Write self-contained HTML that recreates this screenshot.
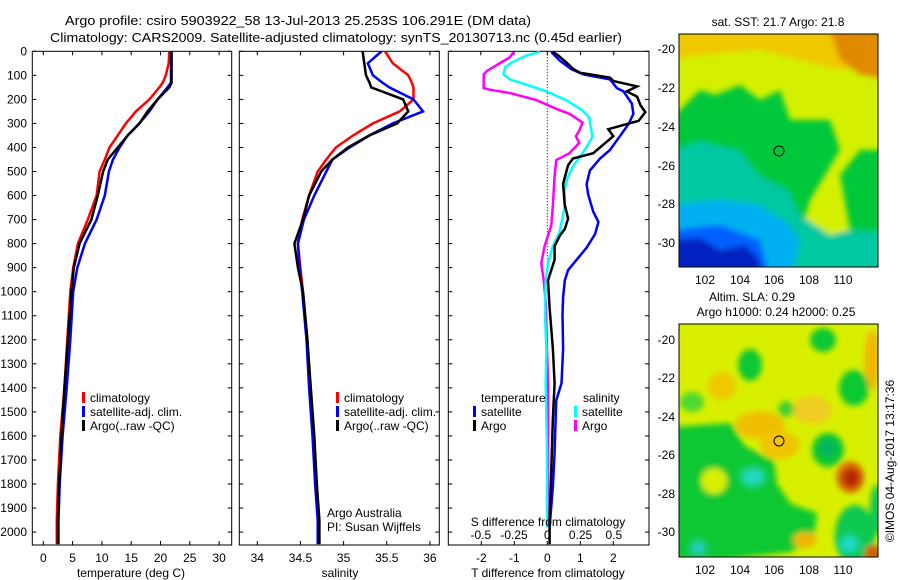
<!DOCTYPE html>
<html><head><meta charset="utf-8">
<style>
html,body{margin:0;padding:0;background:#fff;}
svg{display:block;font-family:"Liberation Sans",sans-serif;}
</style></head>
<body>
<svg id="fig" width="900" height="580" viewBox="0 0 900 580" xmlns="http://www.w3.org/2000/svg">
<defs>
<filter id="blur6" x="-20%" y="-20%" width="140%" height="140%"><feGaussianBlur stdDeviation="3"/></filter>
<filter id="blur4" x="-20%" y="-20%" width="140%" height="140%"><feGaussianBlur stdDeviation="4"/></filter>
<clipPath id="clipM1"><rect x="679" y="34" width="199" height="233"/></clipPath>
<clipPath id="clipM2"><rect x="679" y="324" width="199" height="233"/></clipPath>
<clipPath id="clipP1"><rect x="32" y="51" width="200" height="494"/></clipPath>
<clipPath id="clipP2"><rect x="239" y="51" width="200" height="494"/></clipPath>
<clipPath id="clipP3"><rect x="448" y="51" width="201" height="494"/></clipPath>
</defs>
<text x="65" y="25" font-size="13" textLength="466" lengthAdjust="spacingAndGlyphs">Argo profile: csiro 5903922_58 13-Jul-2013 25.253S 106.291E (DM data)</text>
<text x="50" y="42" font-size="13" textLength="572" lengthAdjust="spacingAndGlyphs">Climatology: CARS2009. Satellite-adjusted climatology: synTS_20130713.nc (0.45d earlier)</text>

<!-- Map 1 -->
<g>
<text x="778" y="26" font-size="12" text-anchor="middle">sat. SST: 21.7 Argo: 21.8</text>
<g clip-path="url(#clipM1)">
<rect x="679" y="34" width="199" height="233" fill="#00c83a"/>
<g filter="url(#blur6)">
<path d="M670,30 L890,30 L890,150 L860,150 L840,175 L850,230 L830,250 L800,235 L810,200 L840,150 L830,120 L790,120 L780,90 L760,100 L740,85 L715,95 L700,90 L670,120 Z" fill="#d4f000"/>
<path d="M670,30 L890,30 L890,60 L840,70 L800,60 L760,50 L700,55 L670,60 Z" fill="#f0c800"/>
<path d="M830,30 L890,30 L890,80 L860,75 L840,60 Z" fill="#e08a00"/>
<path d="M670,150 L700,140 L740,150 L760,175 L790,190 L800,215 L830,235 L850,230 L890,230 L890,280 L670,280 Z" fill="#00c8a0"/>
<path d="M670,205 L720,200 L760,205 L790,225 L800,240 L790,280 L670,280 Z" fill="#00b0f0"/>
<path d="M670,230 L720,225 L760,240 L770,280 L670,280 Z" fill="#0060ff"/>
<path d="M670,240 L700,238 L720,250 L745,245 L760,260 L760,280 L670,280 Z" fill="#0020c0"/>
</g>
</g>
<rect x="679" y="34" width="199" height="233" fill="none" stroke="#000"/>
<circle cx="779" cy="151" r="5" fill="none" stroke="#000"/>
<g font-size="12">
<text x="675" y="53" text-anchor="end">-20</text><text x="675" y="92" text-anchor="end">-22</text><text x="675" y="131" text-anchor="end">-24</text><text x="675" y="170" text-anchor="end">-26</text><text x="675" y="208" text-anchor="end">-28</text><text x="675" y="247" text-anchor="end">-30</text>
<text x="705" y="284" text-anchor="middle">102</text><text x="740" y="284" text-anchor="middle">104</text><text x="774" y="284" text-anchor="middle">106</text><text x="809" y="284" text-anchor="middle">108</text><text x="843" y="284" text-anchor="middle">110</text>
</g>
</g>

<!-- Map 2 -->
<g>
<text x="752" y="301" font-size="12" text-anchor="middle">Altim. SLA: 0.29</text>
<text x="776" y="316" font-size="12" text-anchor="middle">Argo h1000: 0.24 h2000: 0.25</text>
<g clip-path="url(#clipM2)">
<rect x="679" y="324" width="199" height="233" fill="#d8f000"/>
<g filter="url(#blur6)">
<ellipse cx="722" cy="386" rx="14" ry="14" fill="#f0c800"/>
<ellipse cx="760" cy="425" rx="25" ry="14" fill="#f0c000"/>
<ellipse cx="780" cy="445" rx="20" ry="14" fill="#f0c400"/>
<ellipse cx="812" cy="410" rx="20" ry="14" fill="#f0cc20"/>
<ellipse cx="872" cy="360" rx="8" ry="30" fill="#f0b800"/>
<path d="M670,427 L731,423 L745,446 L774,461 L777,484 L791,504 L817,513 L814,538 L791,552 L722,560 L670,560 Z" fill="#10c830"/>
<ellipse cx="714" cy="481" rx="13" ry="13" fill="#d8f000"/>
<ellipse cx="750" cy="365" rx="12" ry="16" fill="#10c830"/>
<ellipse cx="823" cy="340" rx="13" ry="12" fill="#10c830"/>
<ellipse cx="854" cy="388" rx="15" ry="18" fill="#10c830"/>
<ellipse cx="828" cy="450" rx="16" ry="17" fill="#10c830"/>
<ellipse cx="786" cy="409" rx="8" ry="8" fill="#40d030"/>
<ellipse cx="692" cy="402" rx="12" ry="10" fill="#50d830"/>
<ellipse cx="855" cy="535" rx="20" ry="30" fill="#10c850"/>
<ellipse cx="876" cy="510" rx="6" ry="25" fill="#10c850"/>
<ellipse cx="850" cy="477" rx="14" ry="16" fill="#e08000"/>
<ellipse cx="805" cy="540" rx="12" ry="8" fill="#f0b800"/>
<ellipse cx="874" cy="553" rx="10" ry="8" fill="#d06000"/>
</g>
<g filter="url(#blur4)">
<ellipse cx="753" cy="477" rx="13" ry="10" fill="#20d8c0"/>
<ellipse cx="828" cy="448" rx="8" ry="8" fill="#00b070"/>
<ellipse cx="851" cy="478" rx="9" ry="10" fill="#b02000"/>
<ellipse cx="698" cy="548" rx="9" ry="8" fill="#20d0c0"/>
<ellipse cx="849" cy="544" rx="10" ry="9" fill="#20d8d0"/>
</g>
</g>
<rect x="679" y="324" width="199" height="233" fill="none" stroke="#000"/>
<circle cx="779" cy="441" r="5" fill="none" stroke="#000"/>
<g font-size="12">
<text x="675" y="344" text-anchor="end">-20</text><text x="675" y="382" text-anchor="end">-22</text><text x="675" y="421" text-anchor="end">-24</text><text x="675" y="459" text-anchor="end">-26</text><text x="675" y="498" text-anchor="end">-28</text><text x="675" y="536" text-anchor="end">-30</text>
<text x="705" y="574" text-anchor="middle">102</text><text x="740" y="574" text-anchor="middle">104</text><text x="774" y="574" text-anchor="middle">106</text><text x="809" y="574" text-anchor="middle">108</text><text x="843" y="574" text-anchor="middle">110</text>
</g>
<text font-size="12" transform="translate(894,461) rotate(-90)" text-anchor="middle">©IMOS 04-Aug-2017 13:17:36</text>
</g>

<g id="plots"></g>
</svg>
<script>
// ---------- data ----------
const depthTicks = [0,100,200,300,400,500,600,700,800,900,1000,1100,1200,1300,1400,1500,1600,1700,1800,1900,2000];
const tempTicks = [0,5,10,15,20,25,30];
const salTicks = [34,34.5,35,35.5,36];
const salTickLabels = ["34","34.5","35","35.5","36"];
const tdiffTicks = [-2,-1,0,1,2];
const sdiffTicks = [-0.5,-0.25,0,0.25,0.5];
const sdiffTickLabels = ["-0.5","-0.25","0","0.25","0.5"];

const profDepth = [0,50,100,130,150,200,250,300,350,400,450,500,600,700,800,900,1000,1200,1400,1600,1800,1950,2050];
const tempClim  = [21.5,21.4,20.9,20.4,19.8,18.1,15.8,14.1,12.7,11.3,10.5,9.6,9.1,7.6,5.9,5.1,4.6,4.1,3.6,2.9,2.5,2.3,2.3];
const tempSat   = [21.8,21.8,21.8,21.8,21.2,19.5,18.1,16.4,14.4,13.0,11.9,11.2,10.5,9.1,7.1,5.8,5.1,4.6,4.0,3.3,2.8,2.6,2.6];
const tempArgo  = [21.9,21.9,21.9,21.9,21.5,19.5,17.8,16.4,14.4,12.7,11.0,10.2,9.3,8.2,6.2,5.2,4.8,4.2,3.6,3.1,2.7,2.5,2.5];

const salClim = [35.48,35.57,35.75,35.79,35.81,35.81,35.65,35.34,35.11,34.91,34.80,34.70,34.60,34.52,34.47,34.50,34.53,34.58,34.61,34.65,34.69,34.71,34.72];
const salSat  = [35.44,35.28,35.34,35.45,35.53,35.81,35.92,35.57,35.30,35.07,34.87,34.80,34.66,34.54,34.47,34.49,34.52,34.57,34.60,34.64,34.67,34.70,34.70];
const salArgo = [35.22,35.24,35.26,35.30,35.32,35.69,35.75,35.62,35.30,35.05,34.87,34.74,34.60,34.53,34.43,34.47,34.53,34.58,34.62,34.66,34.69,34.72,34.72];

const dTArgoDepth = [3,17,53,74,89,110,124,146,167,189,224,253,289,303,324,353,424,446,474,524,553,639,696,739,767,810,867,953,1067,1239,1381,1524,1739,1953,2050];
const dTArgo      = [0.17,0.33,0.63,0.79,0.99,1.90,2.01,2.72,2.41,2.72,2.82,2.97,2.77,2.41,1.85,2.00,1.39,0.78,0.63,0.53,0.48,0.53,0.63,0.53,0.38,0.22,0.22,0.02,0.07,0.17,0.22,0.17,0.12,0.07,0.07];
const dTSatDepth  = [3,39,74,96,117,153,167,217,260,303,353,410,446,496,553,596,667,710,760,817,867,910,953,1024,1096,1239,1381,1453,1667,1810,1981];
const dTSat       = [0.12,0.38,0.73,1.09,1.90,2.11,2.31,2.56,2.61,2.46,2.20,1.90,1.60,1.29,1.19,1.24,1.39,1.55,1.45,1.19,0.89,0.63,0.53,0.48,0.46,0.48,0.43,0.27,0.22,0.17,0.07];
const dSSatDepth  = [3,17,46,67,96,117,139,167,203,246,274,317,353,381,424,481,524,581,653,753,810,881,953,1096,1239,1381,1524,1667,1810,1981];
const dSSat       = [-0.057,-0.156,-0.267,-0.317,-0.329,-0.280,-0.156,-0.007,0.141,0.265,0.314,0.327,0.339,0.314,0.265,0.191,0.153,0.129,0.129,0.092,0.042,0.005,-0.012,-0.017,-0.007,-0.012,-0.007,-0.002,-0.002,-0.002];
const dSArgoDepth = [3,24,53,81,96,153,160,174,203,239,260,296,331,353,381,424,453,524,639,724,810,881,953,1039,1239,1381,1667,1981];
const dSArgo      = [-0.255,-0.280,-0.366,-0.453,-0.478,-0.478,-0.428,-0.280,-0.082,0.067,0.166,0.265,0.240,0.215,0.240,0.166,0.067,0.054,0.042,0.030,-0.020,-0.045,-0.027,-0.012,-0.002,0.005,0.005,0.005];

// ---------- axes ----------
const NS = "http://www.w3.org/2000/svg";
const TOP = 51.3, BOT = 545;
const yD = d => TOP + d * 0.2404;
const xT  = t => 43.3 + t * 5.86;
const xS  = s => 257.3 + (s - 34) * 86.3;
const xdT = t => 547.3 + t * 33;
const xdS = s => 547.3 + s * 133;
const root = document.getElementById('plots');

function mk(tag, attrs, parent){
  const e = document.createElementNS(NS, tag);
  for (const k in attrs) e.setAttribute(k, attrs[k]);
  (parent || root).appendChild(e);
  return e;
}
function txt(x, y, s, anchor, parent){
  const t = mk('text', {x:x, y:y, 'font-size':12, 'text-anchor':anchor||'middle'}, parent);
  t.textContent = s;
  return t;
}
function line(xs, ds, fx, color, parent, w){
  const pts = xs.map((v,i)=> fx(v).toFixed(1)+','+yD(ds[i]).toFixed(1)).join(' ');
  return mk('polyline', {points:pts, fill:'none', stroke:color, 'stroke-width':w||2.5, 'stroke-linejoin':'miter'}, parent);
}
function frame(x0, x1, name){
  const g = mk('g', {});
  
  
  mk('rect', {x:x0, y:TOP, width:x1-x0, height:BOT-TOP, fill:'none', stroke:'#000', 'stroke-width':1}, g);
  depthTicks.forEach(d=>{
    mk('line', {x1:x0, x2:x0+4, y1:yD(d), y2:yD(d), stroke:'#000'}, g);
    mk('line', {x1:x1-4, x2:x1, y1:yD(d), y2:yD(d), stroke:'#000'}, g);
  });
  return g;
}
function xticks(g, vals, labels, fx, ly){
  vals.forEach((v,i)=>{
    mk('line', {x1:fx(v), x2:fx(v), y1:BOT, y2:BOT-4, stroke:'#000'}, g);
    mk('line', {x1:fx(v), x2:fx(v), y1:TOP, y2:TOP+4, stroke:'#000'}, g);
    const t = txt(fx(v), ly, labels[i]);
    
    
  });
}
function legendEntry(g, x, y, color, label){
  const le = mk('g', {}, g);
  
  
  mk('rect', {x:x, y:y-10, width:3, height:11, fill:color}, le);
  txt(x+8, y, label, 'start', le);
}

// Panel 1: temperature
const g1 = frame(32.3, 231.7, 'temperature-panel');
depthTicks.forEach(d=>{
  const t = txt(27, yD(d)+4, String(d), 'end', g1);
  
  
});
xticks(g1, tempTicks, tempTicks.map(String), xT, 562);
const t1 = txt(131, 577, 'temperature (deg C)', 'middle', g1);


const c1 = mk('g', {'clip-path':'url(#clipP1)'}, g1);
line(tempClim, profDepth, xT, '#ff0000', c1);
line(tempSat, profDepth, xT, '#0000ff', c1);
line(tempArgo, profDepth, xT, '#000000', c1);
legendEntry(g1, 82, 402, '#ff0000', 'climatology');
legendEntry(g1, 82, 416, '#0000ff', 'satellite-adj. clim.');
legendEntry(g1, 82, 430, '#000000', 'Argo(..raw -QC)');

// Panel 2: salinity
const g2 = frame(239.3, 439.3, 'salinity-panel');
xticks(g2, salTicks, salTickLabels, xS, 562);
const t2 = txt(340, 577, 'salinity', 'middle', g2);


const c2 = mk('g', {'clip-path':'url(#clipP2)'}, g2);
line(salClim, profDepth, xS, '#ff0000', c2);
line(salSat, profDepth, xS, '#0000ff', c2);
line(salArgo, profDepth, xS, '#000000', c2);
legendEntry(g2, 336, 402, '#ff0000', 'climatology');
legendEntry(g2, 336, 416, '#0000ff', 'satellite-adj. clim.');
legendEntry(g2, 336, 430, '#000000', 'Argo(..raw -QC)');
const a1 = txt(327, 517, 'Argo Australia', 'start', g2);


const a2 = txt(327, 531, 'PI: Susan Wijffels', 'start', g2);



// Panel 3: differences
const g3 = frame(448.3, 649, 'difference-panel');
mk('line', {x1:xdT(0), x2:xdT(0), y1:TOP, y2:yD(900), stroke:'#000', 'stroke-dasharray':'1,2'}, g3);
tdiffTicks.forEach(v=>{
  mk('line', {x1:xdT(v), x2:xdT(v), y1:BOT, y2:BOT-4, stroke:'#000'}, g3);
  const t = txt(xdT(v), 562, String(v), 'middle', g3);
  
  
});
sdiffTicks.forEach((v,i)=>{
  mk('line', {x1:xdS(v), x2:xdS(v), y1:TOP, y2:TOP+4, stroke:'#000'}, g3);
  const t = txt(xdS(v), 539, sdiffTickLabels[i], 'middle', g3);
  
  
});
const c3 = mk('g', {'clip-path':'url(#clipP3)'}, g3);
line(dSArgo, dSArgoDepth, xdS, '#ff00ff', c3);
line(dSSat, dSSatDepth, xdS, '#00ffff', c3);
line(dTSat, dTSatDepth, xdT, '#0000ff', c3);
line(dTArgo, dTArgoDepth, xdT, '#000000', c3);
const s3 = txt(548, 526, 'S difference from climatology', 'middle', g3);


const tt3 = txt(548, 577, 'T difference from climatology', 'middle', g3);


const lt = txt(481, 402, 'temperature', 'start', g3);


const ls = txt(583, 402, 'salinity', 'start', g3);


legendEntry(g3, 473, 416, '#0000ff', 'satellite');
legendEntry(g3, 473, 430, '#000000', 'Argo');
legendEntry(g3, 574, 416, '#00ffff', 'satellite');
legendEntry(g3, 574, 430, '#ff00ff', 'Argo');
</script>
</body></html>
